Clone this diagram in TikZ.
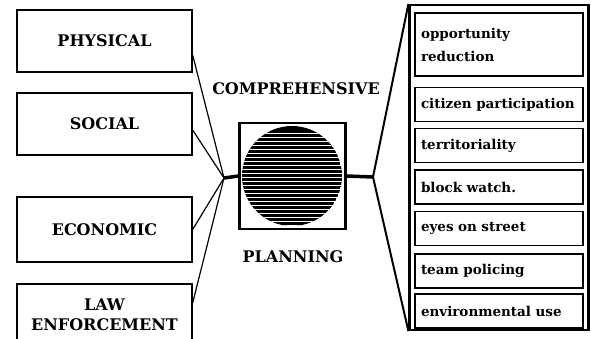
\documentclass[tikz,border=0pt]{standalone}
\usepackage{fontspec}
\setmainfont{DejaVu Serif}

\begin{document}
\begin{tikzpicture}[x=1pt,y=-1pt]%
  \tikzstyle{sector}=[draw,line width=1.3pt,minimum width=175pt,minimum height=62pt,inner sep=0,align=center,font=\fontsize{16}{20}\selectfont\bfseries]
  \tikzstyle{tactic}=[draw,line width=1.3pt,minimum width=168pt,minimum height=34pt,text width=156pt,inner xsep=6pt,inner ysep=0,align=left,font=\fontsize{13.5}{23}\selectfont\bfseries]
  \tikzstyle{caption}=[font=\fontsize{16}{18}\selectfont\bfseries]
  \tikzstyle{link}=[line width=1.2pt]
  \tikzstyle{hub}=[line width=3.5pt]
  \clip (0,0) rectangle (591,338);
  % the four planning sectors
  \node(phys)[sector] at (104.5,41){PHYSICAL};
  \node(soc)[sector] at (104.5,124){SOCIAL};
  \node(econ)[sector,minimum height=65pt] at (104.5,229.5){ECONOMIC};
  \node(law)[sector] at (104.5,315){LAW\\ENFORCEMENT};
  % hub: striped globe in a frame
  \node(plan)[draw,line width=2.5pt,minimum size=106pt,inner sep=0] at (292.5,176){};
  \node(globe)[circle,minimum size=100pt,inner sep=0] at (292,176){};
  \begin{scope}
    \clip (globe.center) circle[radius=50pt];
    \fill (globe.center) circle[radius=50pt];
    \foreach \y in {133,137,...,227} \draw[white,line width=1pt] (240,\y) -- (345,\y);
  \end{scope}
  \node(comp)[caption] at (296,89){COMPREHENSIVE};
  \node(plng)[caption] at (293,257){PLANNING};
  \coordinate(lj) at (224,178);
  \coordinate(rj) at (373,177);
  % crime prevention tactics
  \node(menu)[draw,line width=2.2pt,minimum width=179pt,minimum height=325pt,inner sep=0] at (499,167.5){};
  \node(opp)[tactic,minimum height=63pt] at (499,44.5){opportunity\\reduction};
  \node(cit)[tactic] at (499,104.5){citizen participation};
  \node(ter)[tactic] at (499,145.5){territoriality};
  \node(blk)[tactic] at (499,187){block watch.};
  \node(eye)[tactic] at (499,228.5){eyes on street};
  \node(team)[tactic] at (499,271){team policing};
  \node(env)[tactic] at (499,311){environmental use};
  % connectors
  \draw[link] ([yshift=-14pt]phys.east) -- (lj);
  \draw[link] ([yshift=-6pt]soc.east) -- (lj);
  \draw[link] (econ.east) -- (lj);
  \draw[link] ([yshift=12pt]law.east) -- (lj);
  \draw[hub] (lj) -- (plan.west);
  \draw[hub] (plan.east) -- (rj);
  \draw[line width=2pt] (menu.north west) -- (rj) -- (menu.south west);
\end{tikzpicture}
\end{document}
